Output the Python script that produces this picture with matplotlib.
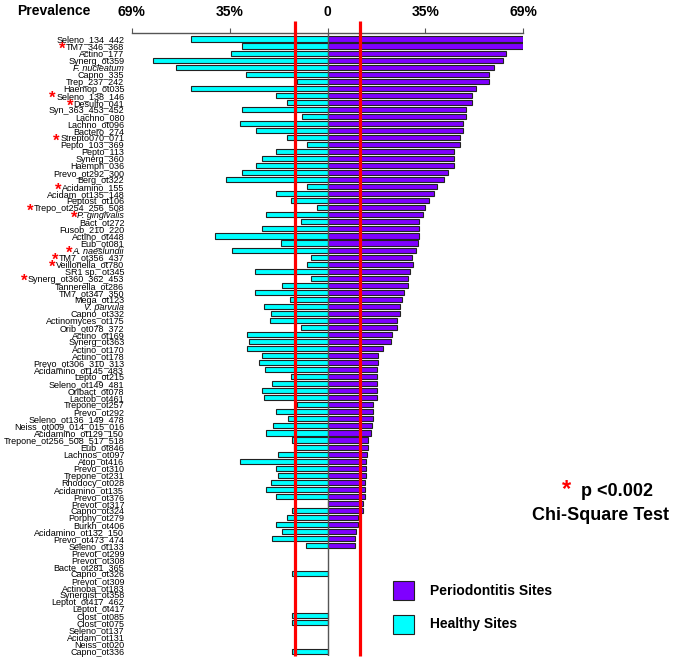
import numpy as np
import matplotlib
matplotlib.use("Agg")
import matplotlib.pyplot as plt
from matplotlib.patches import Rectangle

plt.rcParams['font.family'] = ['Liberation Sans', 'DejaVu Sans']

labels = ["Seleno_134_442", "TM7_346_368", "Actino_177", "Synerg_ot359", "F. nucleatum",
          "Capno_335", "Trep_237_242", "Haemop_ot035", "Seleno_138_146", "Desulfo_041",
          "Syn_363_453_452", "Lachno_080", "Lachno_ot096", "Bactero_274", "Strepto070_071",
          "Pepto_103_369", "Pepto_113", "Synerg_360", "Haemph_036", "Prevo_ot292_300",
          "Berg_ot322", "Acidamino_155", "Acidam_ot135_148", "Peptost_ot106", "Trepo_ot254_256_508",
          "P. gingivalis", "Bact_ot272", "Fusob_210_220", "Actino_ot448", "Eub_ot081",
          "A. naeslundii", "TM7_ot356_437", "Veillonella_ot780", "SR1 sp._ot345", "Synerg_ot360_362_453",
          "Tannerella_ot286", "TM7_ot347_350", "Mega_ot123", "V. parvula", "Capno_ot332",
          "Actinomyces_ot175", "Orib_ot078_372", "Actino_ot169", "Synerg_ot363", "Actino_ot170",
          "Actino_ot178", "Prevo_ot306_310_313", "Acidamino_ot145_483", "Lepto_ot215", "Seleno_ot149_481",
          "Oribact_ot078", "Lactob_ot461", "Trepone_ot257", "Prevo_ot292", "Seleno_ot136_149_478",
          "Neiss_ot009_014_015_016", "Acidamino_ot129_150", "Trepone_ot256_508_517_518", "Eub_ot846", "Lachnos_ot097",
          "Atop_ot416", "Prevo_ot310", "Trepone_ot231", "Rhodocy_ot028", "Acidamino_ot135",
          "Prevo_ot376", "Prevot_ot317", "Capno_ot324", "Porphy_ot279", "Burkh_ot406",
          "Acidamino_ot132_150", "Prevo_ot473_474", "Seleno_ot133", "Prevot_ot299", "Prevot_ot308",
          "Bacte_ot281_365", "Capno_ot326", "Prevot_ot309", "Actinoba_ot183", "Synergist_ot358",
          "Leptot_ot417_462", "Leptot_ot417", "Clost_ot085", "Clost_ot075", "Seleno_ot137",
          "Acidam_ot131", "Neiss_ot020", "Capno_ot336"]

italic_labels = ["F. nucleatum", "P. gingivalis", "A. naeslundii", "V. parvula"]
significant = ["TM7_346_368", "Seleno_138_146", "Desulfo_041", "Strepto070_071", "Acidamino_155",
               "Trepo_ot254_256_508", "P. gingivalis", "A. naeslundii", "TM7_ot356_437",
               "Veillonella_ot780", "Synerg_ot360_362_453"]

periodontitis = [68.9, 68.9, 62.9, 62.0, 58.7, 56.8, 56.8, 52.5, 50.8, 50.8,
                 48.7, 48.7, 47.8, 47.7, 46.7, 46.7, 44.6, 44.6, 44.6, 42.6,
                 41.0, 38.6, 37.6, 35.6, 34.3, 33.7, 32.4, 32.4, 32.4, 31.9,
                 31.2, 29.9, 30.0, 29.2, 28.2, 28.2, 26.8, 26.2, 25.4, 25.4,
                 24.5, 24.5, 22.7, 22.3, 19.5, 17.9, 17.9, 17.5, 17.5, 17.3,
                 17.3, 17.3, 16.2, 15.9, 15.9, 15.6, 15.3, 14.1, 14.1, 13.9,
                 13.6, 13.6, 13.6, 13.2, 13.2, 13.2, 12.4, 12.4, 10.9, 10.9,
                 10.0, 9.7, 9.7, 0, 0, 0, 0, 0, 0, 0,
                 0, 0, 0, 0, 0, 0, 0, 0]

healthy = [48.2, 30.3, 34.0, 61.6, 53.5, 28.6, 10.8, 48.2, 18.0, 14.4,
           30.3, 9.0, 31.0, 25.1, 14.4, 7.4, 18.0, 23.2, 25.1, 30.3,
           35.9, 7.4, 18.3, 13.0, 3.8, 21.7, 9.5, 23.2, 39.6, 16.4,
           33.7, 5.9, 7.4, 25.6, 5.7, 16.2, 25.6, 13.1, 22.4, 19.8,
           20.2, 9.2, 28.5, 27.6, 28.2, 23.2, 24.1, 21.9, 13.0, 19.4,
           23.2, 22.4, 10.8, 18.3, 14.0, 19.1, 21.7, 12.6, 11.9, 17.4,
           30.8, 18.3, 17.3, 19.8, 21.7, 18.0, 0, 12.6, 14.4, 18.0,
           16.2, 19.4, 7.6, 0, 0, 0, 12.6, 0, 0, 0,
           0, 0, 12.6, 12.6, 0, 0, 0, 12.6]

tick_values = [-69, -34.5, 0, 34.5, 69]
tick_labels = ["69%", "35%", "0", "35%", "69%"]
threshold = 11.3

PURPLE = "#7F00FF"
CYAN = "#00FFFF"

W, H = 675, 664
fig = plt.figure(figsize=(W / 100, H / 100), dpi=100)
ax_left, ax_right = 131.7, 523.3
ax_top, ax_bot = 33.0, 656.0
ax = fig.add_axes([ax_left / W, 1 - ax_bot / H, (ax_right - ax_left) / W, (ax_bot - ax_top) / H])

n = len(labels)
y = np.arange(n)
p = np.array(periodontitis)
h = np.array(healthy)

mp = p > 0
mh = h > 0
ax.barh(y[mp], p[mp], height=0.72, color=PURPLE, edgecolor="#222222", linewidth=0.8, zorder=2)
ax.barh(y[mh], -h[mh], height=0.72, color=CYAN, edgecolor="#222222", linewidth=0.8, zorder=2)

ax.set_xlim(-69, 69)
ax.set_ylim(n - 1 + 0.7, -0.85)

ax.axvline(0, color="#555555", lw=1.0, zorder=3)
ax.vlines([-threshold, threshold], -2.55, n - 1 + 0.7, color="#FF0000", lw=2.3, zorder=4, clip_on=False)

for s in ["left", "right", "bottom"]:
    ax.spines[s].set_visible(False)
ax.spines["top"].set_color("#555555")
ax.spines["top"].set_linewidth(1.0)
ax.xaxis.tick_top()
ax.set_xticks(tick_values)
ax.set_xticklabels(tick_labels, fontsize=10, fontweight="bold")
ax.tick_params(axis="x", direction="out", length=3.8, color="#555555", pad=6)

ax.set_yticks(y)
ax.set_yticklabels(labels, fontsize=6.5)
ax.tick_params(axis="y", length=0, pad=5.3)
for tl in ax.get_yticklabels():
    if tl.get_text() in italic_labels:
        tl.set_fontstyle("italic")

fig.text(17 / W, 1 - 11 / H, "Prevalence", fontsize=10, fontweight="bold", ha="left", va="center")

# significance stars placed just left of the labels
fig.canvas.draw()
renderer = fig.canvas.get_renderer()
for tl in ax.get_yticklabels():
    if tl.get_text() in significant:
        bb = tl.get_window_extent(renderer)
        fig.text((bb.x0 - 0.5) / W, (bb.y0 + bb.y1) / 2 / H - 2.5 / H, "*", color="#FF0000",
                 fontsize=12, fontweight="bold", ha="right", va="center")

# annotation
fig.text(567 / W, 1 - 490 / H, "*", color="#FF0000", fontsize=17, fontweight="bold", ha="center", va="center")
fig.text(581 / W, 1 - 491 / H, "p <0.002", fontsize=13, fontweight="bold", ha="left", va="center")
fig.text(600 / W, 1 - 516 / H, "Chi-Square Test", fontsize=13, fontweight="bold", ha="center", va="center")

# legend
fig.patches.append(Rectangle((393 / W, 1 - 600 / H), 21 / W, 19 / H, transform=fig.transFigure,
                             facecolor=PURPLE, edgecolor="#222222", lw=0.8))
fig.patches.append(Rectangle((393 / W, 1 - 634 / H), 21 / W, 19 / H, transform=fig.transFigure,
                             facecolor=CYAN, edgecolor="#222222", lw=0.8))
fig.text(430 / W, 1 - 591 / H, "Periodontitis Sites", fontsize=10, fontweight="bold", ha="left", va="center")
fig.text(430 / W, 1 - 624 / H, "Healthy Sites", fontsize=10, fontweight="bold", ha="left", va="center")

fig.savefig("out.png", dpi=100)
